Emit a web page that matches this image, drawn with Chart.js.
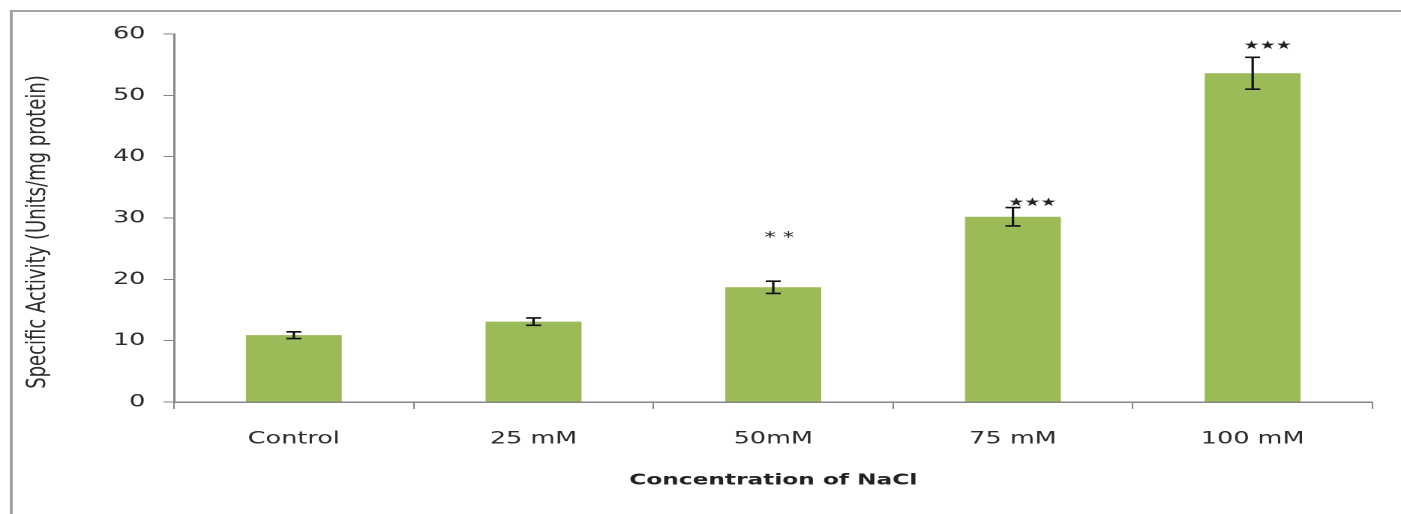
<!DOCTYPE html>
<html>
<head>
<meta charset="utf-8">
<script src="https://cdn.jsdelivr.net/npm/chart.js@4.4.0/dist/chart.umd.min.js"></script>
<style>
    html, body { margin: 0; padding: 0; background: #fff; overflow: hidden; }
    /* the reference is stretched 1.5x horizontally, so draw narrow and stretch */
    #wrap { width: 934px; height: 514px; transform: scaleX(1.5); transform-origin: 0 0; }
</style>
</head>
<body>
<div id="wrap"><canvas id="c" width="934" height="514"></canvas></div>
<script>
    'use strict'

    // ---------------------------------------------------------------------------
    // DATA
    // ---------------------------------------------------------------------------

    const CATEGORIES = ['Control', '25 mM', '50mM', '75 mM', '100 mM']
    const ACTIVITY = [10.9, 13.1, 18.7, 30.2, 53.6]
    const ERRORS = [0.55, 0.6, 1.0, 1.5, 2.6]
    const SIG_MARKS = ['', '', '* *', '★★★', '★★★']
    const SIG_AT = [null, null, 26.7, 32.5, 58.1]
    const Y_MIN = 0
    const Y_MAX = 60
    const Y_STEP = 10

    const X_TITLE = 'Concentration of NaCl'
    const Y_TITLE = 'Specific Activity (Units/mg protein)'

    // ---------------------------------------------------------------------------
    // STYLE
    // ---------------------------------------------------------------------------

    const BAR_COLOR = '#9BBB59'
    const AXIS_COLOR = '#868686'
    const TEXT_COLOR = '#2b2b2b'
    const FONT = 'DejaVu Sans'
    const SIG_NUDGE = [0, 0, 4, 13, 10]

    const frame = {
        id: 'frame',
        beforeDraw(chart) {
            const ctx = chart.ctx
            ctx.save()
            ctx.strokeStyle = '#a3a3a3'
            ctx.lineWidth = 2
            ctx.beginPath()
            ctx.moveTo(7.5, chart.height)
            ctx.lineTo(7.5, 11)
            ctx.lineTo(chart.width, 11)
            ctx.stroke()
            ctx.restore()
        },
    }

    const errorBars = {
        id: 'errorBars',
        afterDatasetsDraw(chart) {
            const ctx = chart.ctx
            const y = chart.scales.y
            const meta = chart.getDatasetMeta(0)
            ctx.save()
            ctx.strokeStyle = '#111'
            ctx.lineWidth = 1.6
            meta.data.forEach((bar, i) => {
                const top = y.getPixelForValue(ACTIVITY[i] + ERRORS[i])
                const bot = y.getPixelForValue(ACTIVITY[i] - ERRORS[i])
                const cap = 5
                ctx.beginPath()
                ctx.moveTo(bar.x, top); ctx.lineTo(bar.x, bot)
                ctx.moveTo(bar.x - cap, top); ctx.lineTo(bar.x + cap, top)
                ctx.moveTo(bar.x - cap, bot); ctx.lineTo(bar.x + cap, bot)
                ctx.stroke()
            })

            // significance marks
            ctx.fillStyle = '#222'
            ctx.textAlign = 'center'
            ctx.textBaseline = 'middle'
            meta.data.forEach((bar, i) => {
                if (!SIG_MARKS[i] || SIG_AT[i] == null) return
                const star = SIG_MARKS[i].includes('★')
                ctx.font = (star ? '12px ' : '15px ') + FONT
                ctx.fillText(SIG_MARKS[i], bar.x + SIG_NUDGE[i], y.getPixelForValue(SIG_AT[i]))
            })
            ctx.restore()
        },
    }

    const yTitle = {
        id: 'yTitle',
        afterDraw(chart) {
            const ctx = chart.ctx
            const area = chart.chartArea
            ctx.save()
            ctx.translate(25.5, (area.top + area.bottom) / 2 + 14)
            ctx.rotate(-Math.PI / 2)
            ctx.font = '18px ' + FONT
            ctx.fillStyle = TEXT_COLOR
            ctx.textAlign = 'center'
            ctx.textBaseline = 'middle'
            ctx.fillText(Y_TITLE, 0, 0)
            ctx.restore()
        },
    }

    new Chart(document.getElementById('c'), {
        type: 'bar',
        data: {
            labels: CATEGORIES,
            datasets: [{
                data: ACTIVITY,
                backgroundColor: BAR_COLOR,
                borderWidth: 0,
                barPercentage: 0.4,
                categoryPercentage: 1,
            }],
        },
        options: {
            responsive: false,
            devicePixelRatio: 2,
            animation: false,
            layout: { padding: { top: 34, right: 19, left: 0, bottom: 0 } },
            plugins: {
                legend: { display: false },
                tooltip: { enabled: false },
            },
            scales: {
                x: {
                    offset: true,
                    grid: {
                        display: true,
                        drawOnChartArea: false,
                        drawTicks: true,
                        tickLength: 7,
                        offset: true,
                        color: AXIS_COLOR,
                    },
                    border: { color: AXIS_COLOR, width: 1.5 },
                    ticks: { color: TEXT_COLOR, font: { family: FONT, size: 17 }, padding: 20, maxRotation: 0 },
                    title: {
                        display: true,
                        text: X_TITLE,
                        color: '#222',
                        font: { family: FONT, size: 15.5, weight: 'bold' },
                        padding: { top: 0, bottom: 24 },
                    },
                    afterFit(scale) { scale.height = 112 },
                },
                y: {
                    min: Y_MIN,
                    max: Y_MAX,
                    grid: {
                        drawOnChartArea: false,
                        drawTicks: true,
                        tickLength: 7,
                        color: AXIS_COLOR,
                    },
                    border: { color: AXIS_COLOR, width: 1.5 },
                    ticks: {
                        stepSize: Y_STEP,
                        color: TEXT_COLOR,
                        font: { family: FONT, size: 17 },
                        padding: 12,
                    },
                    afterFit(scale) { scale.width = 116 },
                },
            },
        },
        plugins: [frame, errorBars, yTitle],
    })
</script>
</body>
</html>
